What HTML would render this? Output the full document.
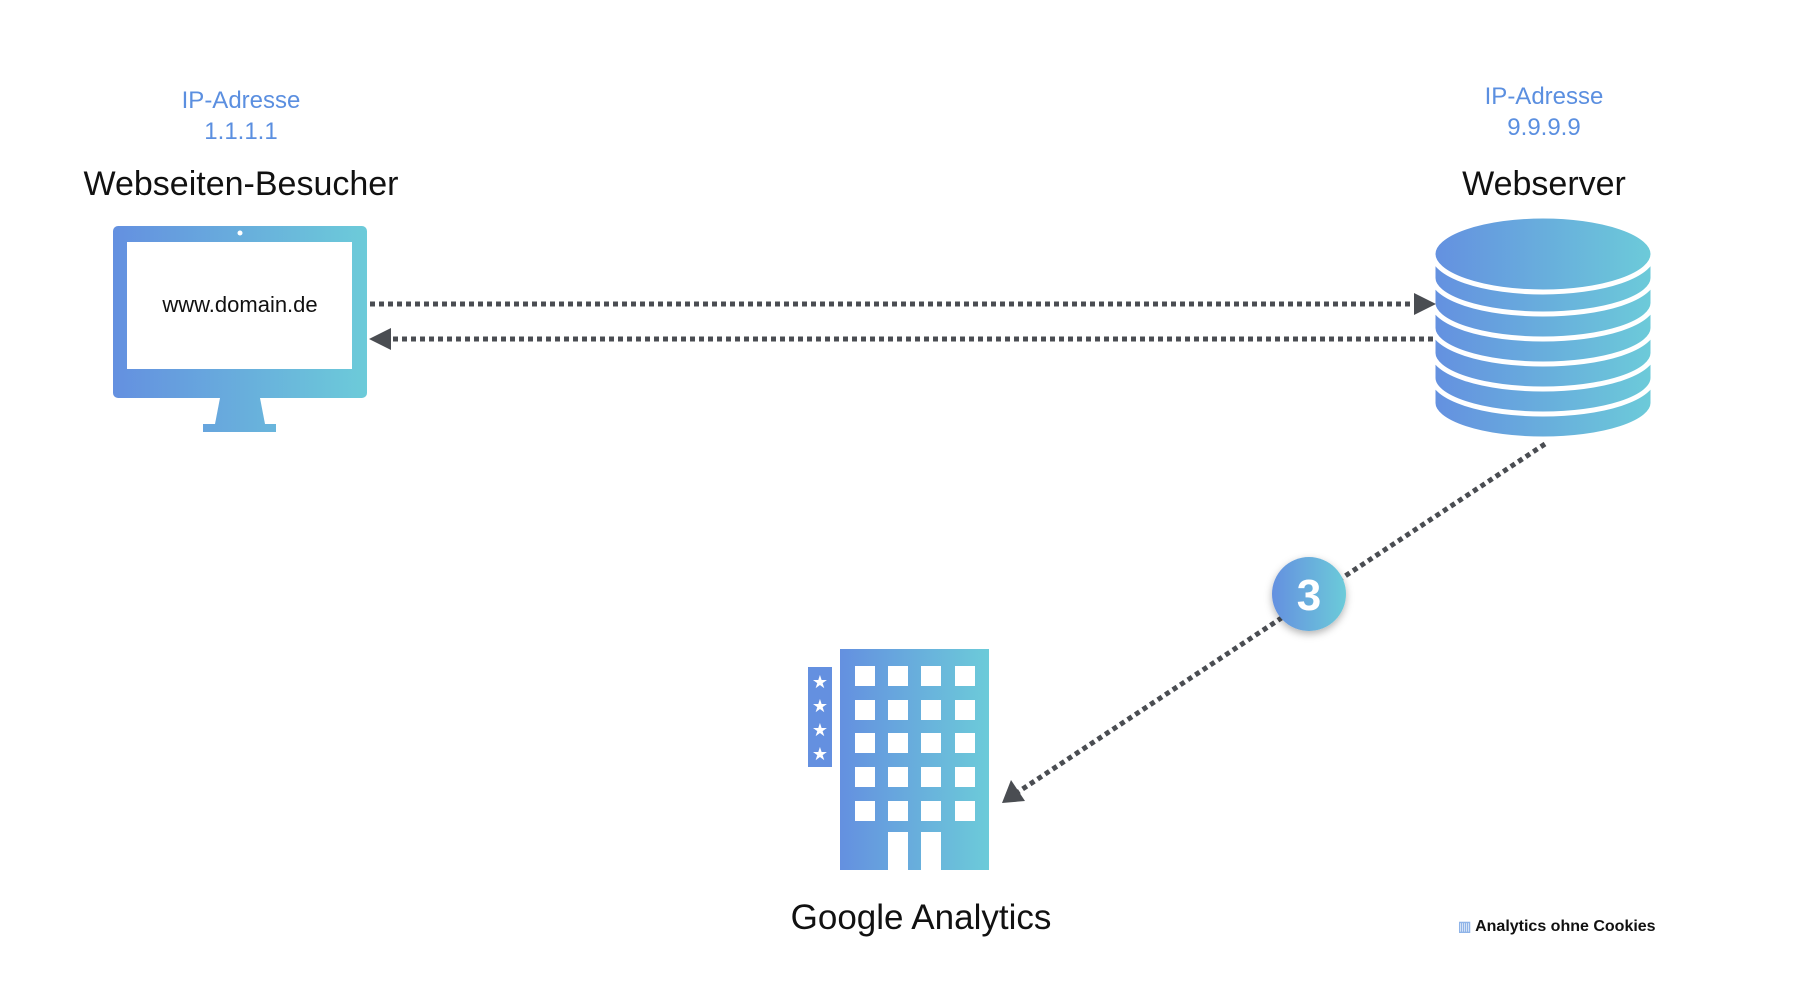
<!DOCTYPE html>
<html><head><meta charset="utf-8"><style>
html,body{margin:0;padding:0;background:#fff;}
body{width:1800px;height:1000px;position:relative;overflow:hidden;font-family:"Liberation Sans",sans-serif;}
.t{position:absolute;transform:translateX(-50%);white-space:nowrap;text-align:center;}
.ip{color:#5b8fe0;font-size:24px;line-height:31px;}
.h{color:#111;font-size:34px;}
</style></head><body>
<svg width="1800" height="1000" style="position:absolute;left:0;top:0">
<defs>
<linearGradient id="g" x1="0" x2="1" y1="0" y2="0"><stop offset="0" stop-color="#6490e0"/><stop offset="1" stop-color="#6ccbd9"/></linearGradient>
<linearGradient id="gm" gradientUnits="userSpaceOnUse" x1="113" x2="367" y1="0" y2="0"><stop offset="0" stop-color="#6490e0"/><stop offset="1" stop-color="#6ccbd9"/></linearGradient>
<linearGradient id="gs" gradientUnits="userSpaceOnUse" x1="1433" x2="1653" y1="0" y2="0"><stop offset="0" stop-color="#6490e0"/><stop offset="1" stop-color="#6ccbd9"/></linearGradient>
<linearGradient id="gb" gradientUnits="userSpaceOnUse" x1="840" x2="989" y1="0" y2="0"><stop offset="0" stop-color="#6490e0"/><stop offset="1" stop-color="#6ccbd9"/></linearGradient>
<filter id="sh" x="-50%" y="-50%" width="200%" height="200%"><feDropShadow dx="0" dy="3" stdDeviation="4" flood-color="#000" flood-opacity="0.3"/></filter>
</defs>
<rect x="113" y="226" width="254" height="172" rx="5" fill="url(#gm)"/>
<rect x="127" y="242" width="225" height="127" fill="#fff"/>
<circle cx="240" cy="233" r="2.5" fill="#fff"/>
<polygon points="220,398 260,398 265,424 215,424" fill="url(#gm)"/>
<rect x="203" y="424" width="73" height="8" fill="url(#gm)"/>
<g fill="url(#gs)" stroke="#fff" stroke-width="5">
<path d="M1433,385 v18 a110,36 0 0 0 220,0 v-18 z"/>
<path d="M1433,360 v18 a110,36 0 0 0 220,0 v-18 z"/>
<path d="M1433,335 v18 a110,36 0 0 0 220,0 v-18 z"/>
<path d="M1433,310 v18 a110,36 0 0 0 220,0 v-18 z"/>
<path d="M1433,285 v18 a110,36 0 0 0 220,0 v-18 z"/>
<path d="M1433,260 v18 a110,36 0 0 0 220,0 v-18 z"/>
<ellipse cx="1543" cy="254" rx="110" ry="38"/>
</g>
<g stroke="#4a4d52" stroke-width="5" stroke-dasharray="5,4" fill="none">
<line x1="370" y1="304" x2="1418" y2="304"/>
<line x1="1433" y1="339" x2="388" y2="339"/>
<line x1="1545" y1="444" x2="1018" y2="792"/>
</g>
<polygon points="1436,304 1414,293 1414,315" fill="#4a4d52"/>
<polygon points="369,339 391,328 391,350" fill="#4a4d52"/>
<polygon points="1002,803 1011,780 1025,801" fill="#4a4d52"/>
<circle cx="1309" cy="594" r="37" fill="url(#g)" filter="url(#sh)"/>
<text x="1309" y="610" text-anchor="middle" font-family="Liberation Sans,sans-serif" font-size="44" font-weight="bold" fill="#fff">3</text>
<rect x="840" y="649" width="149" height="221" fill="url(#gb)"/>
<rect x="808" y="667" width="24" height="100" fill="#6490e0"/>
<g fill="#fff">
<rect x="855" y="666" width="20" height="20"/><rect x="888" y="666" width="20" height="20"/><rect x="921" y="666" width="20" height="20"/><rect x="955" y="666" width="20" height="20"/>
<rect x="855" y="700" width="20" height="20"/><rect x="888" y="700" width="20" height="20"/><rect x="921" y="700" width="20" height="20"/><rect x="955" y="700" width="20" height="20"/>
<rect x="855" y="733" width="20" height="20"/><rect x="888" y="733" width="20" height="20"/><rect x="921" y="733" width="20" height="20"/><rect x="955" y="733" width="20" height="20"/>
<rect x="855" y="767" width="20" height="20"/><rect x="888" y="767" width="20" height="20"/><rect x="921" y="767" width="20" height="20"/><rect x="955" y="767" width="20" height="20"/>
<rect x="855" y="801" width="20" height="20"/><rect x="888" y="801" width="20" height="20"/><rect x="921" y="801" width="20" height="20"/><rect x="955" y="801" width="20" height="20"/>
<rect x="888" y="832" width="20" height="38"/><rect x="921" y="832" width="20" height="38"/>
</g>
<g fill="#fff" font-size="18" text-anchor="middle" font-family="DejaVu Sans,sans-serif">
<text x="820" y="688">★</text><text x="820" y="712">★</text><text x="820" y="736">★</text><text x="820" y="760">★</text>
</g>
</svg>
<div class="t ip" style="left:241px;top:85px">IP-Adresse<br>1.1.1.1</div>
<div class="t ip" style="left:1544px;top:81px">IP-Adresse<br>9.9.9.9</div>
<div class="t h" style="left:241px;top:165px">Webseiten-Besucher</div>
<div class="t h" style="left:1544px;top:165px">Webserver</div>
<div class="t" style="left:240px;top:292px;font-size:22px;color:#111">www.domain.de</div>
<div class="t h" style="left:921px;top:898px;font-size:35px">Google Analytics</div>
<div style="position:absolute;left:1458px;top:918px;font-size:16px;font-weight:bold;color:#111;white-space:nowrap"><span style="color:#8fb4e8;font-size:14px">▥</span> Analytics ohne Cookies</div>
</body></html>
